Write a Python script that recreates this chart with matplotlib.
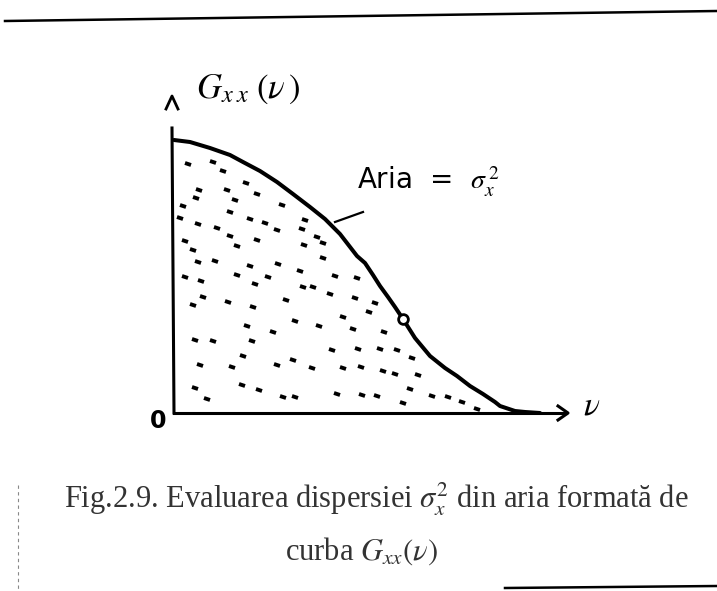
import matplotlib.pyplot as plt
from matplotlib.markers import MarkerStyle
from matplotlib.transforms import Affine2D

# spectral density curve G_xx(nu), in axis units
nu = [0.00, 0.16, 0.36, 0.56, 0.69, 0.86, 1.03, 1.19, 1.36, 1.51, 1.66,
      1.83, 1.91, 1.99, 2.06, 2.14, 2.21, 2.29, 2.41, 2.56, 2.71, 2.83,
      2.96, 3.09, 3.21, 3.26, 3.41, 3.51, 3.66]
gxx = [2.73, 2.71, 2.65, 2.58, 2.51, 2.42, 2.31, 2.19, 2.06, 1.94, 1.79,
       1.57, 1.50, 1.38, 1.27, 1.16, 1.06, 0.94, 0.75, 0.57, 0.45, 0.37,
       0.27, 0.19, 0.11, 0.07, 0.02, 0.01, 0.00]
mark_idx = 17

# stipple filling the area under the curve
dot_nu = [0.14, 0.39, 0.49, 0.72, 0.53, 0.83, 0.25, 0.22, 0.61, 1.08, 0.09,
          0.06, 0.24, 0.56, 0.76, 0.91, 1.03, 1.31, 1.28, 0.43, 0.56, 0.83,
          1.43, 1.49, 1.30, 0.11, 0.63, 0.19, 1.49, 0.24, 0.41, 0.76, 1.04,
          1.26, 0.63, 0.94, 1.61, 1.83, 0.11, 0.27, 0.81, 1.29, 1.39, 1.56,
          1.81, 2.01, 1.95, 0.29, 0.19, 0.54, 0.79, 1.12, 1.69, 1.21, 1.45,
          1.79, 2.10, 0.73, 0.99, 0.21, 0.39, 0.78, 1.58, 1.84, 2.06, 2.23,
          2.38, 0.69, 1.19, 1.03, 0.26, 0.58, 1.38, 1.69, 1.87, 2.09, 2.21,
          2.44, 2.36, 0.21, 0.68, 0.85, 0.33, 1.09, 1.21, 1.63, 1.88, 2.03,
          2.58, 2.74, 2.88, 2.29, 3.03]
dot_g = [2.49, 2.51, 2.42, 2.30, 2.23, 2.19, 2.23, 2.15, 2.13, 2.08, 2.07,
         1.95, 1.89, 2.01, 1.94, 1.90, 1.83, 1.93, 1.84, 1.85, 1.77, 1.73,
         1.76, 1.70, 1.68, 1.72, 1.67, 1.63, 1.55, 1.51, 1.52, 1.47, 1.49,
         1.42, 1.38, 1.36, 1.37, 1.35, 1.36, 1.32, 1.29, 1.26, 1.26, 1.19,
         1.15, 1.10, 1.01, 1.16, 1.08, 1.11, 1.06, 1.13, 0.96, 0.92, 0.87,
         0.84, 0.81, 0.87, 0.81, 0.73, 0.72, 0.72, 0.63, 0.64, 0.64, 0.63,
         0.55, 0.57, 0.53, 0.48, 0.48, 0.46, 0.45, 0.45, 0.46, 0.42, 0.39,
         0.38, 0.24, 0.25, 0.28, 0.23, 0.14, 0.16, 0.16, 0.19, 0.18, 0.17,
         0.17, 0.16, 0.11, 0.10, 0.04]

caption1 = r"Fig.2.9. Evaluarea dispersiei $\sigma_{x}^{2}$ din aria formată de"
caption2 = r"curba $G_{xx}(\nu)$"

W, H = 717, 591
plt.rcParams['mathtext.fontset'] = 'stix'


def px(x, y):
    return x / W, 1 - y / H


fig = plt.figure(figsize=(W / 100, H / 100), dpi=100, facecolor="white")

# page frame: full-figure axes in pixel units
bg = fig.add_axes([0, 0, 1, 1])
bg.set_xlim(0, W)
bg.set_ylim(H, 0)
bg.axis("off")
bg.plot([5, 717], [21, 11], color="black", lw=1.8)
bg.plot([505, 717], [588, 586], color="black", lw=1.8)
bg.plot([18, 18], [485, 591], color="#888888", lw=0.8, ls=(0, (3, 3)))

# the chart itself: 100 px per unit
ax = fig.add_axes([174 / W, (H - 413) / H, 400 / W, 300 / H])
ax.set_xlim(0, 4)
ax.set_ylim(0, 3)
ax.axis("off")

ax.plot([-0.02, 0.0], [2.85, 0.0], color="black", lw=2.2, clip_on=False)
ax.plot([0.0, 3.92], [0.0, 0.0], color="black", lw=2.2, clip_on=False)
ax.plot([3.84, 3.94, 3.84], [0.07, 0.0, -0.07], color="black", lw=2.2,
        clip_on=False)
# arrow tip on the vertical axis
ax.plot([-0.08, -0.02, 0.04], [3.04, 3.17, 3.04], color="black", lw=2.0,
        clip_on=False)

ax.plot(nu, gxx, color="black", lw=2.9, solid_capstyle="round",
        solid_joinstyle="round", clip_on=False)
ax.plot(nu[mark_idx], gxx[mark_idx], "o", ms=7, mfc="white", mec="black",
        mew=2.0, clip_on=False)

dash = MarkerStyle("_", transform=Affine2D().rotate_deg(-25))
ax.plot(dot_nu, dot_g, ls="none", marker=dash, ms=4.2, mew=2.8, color="black")

# hand lettering on the chart
fig.text(*px(196, 98), r"$G_{x\;x}\;(\nu\,)$", fontsize=25, ha="left",
         va="baseline")
fig.text(*px(357, 190), r"Aria  =  $\sigma_x^{\,2}$", fontsize=20,
         ha="left", va="baseline", family="DejaVu Sans")
bg.plot([335, 363], [222, 212], color="black", lw=1.6)
fig.text(*px(158, 421), "0", fontsize=17, fontweight="bold", ha="center",
         va="center")
fig.text(*px(592, 405), r"$\nu$", fontsize=24, ha="center", va="center")

# caption
fig.text(*px(376, 508), caption1, fontsize=22, family="Liberation Serif",
         color="#333333", ha="center", va="baseline")
fig.text(*px(285, 560), caption2, fontsize=22, family="Liberation Serif",
         color="#333333", ha="left", va="baseline")

fig.savefig("out.png", dpi=100, facecolor="white")
